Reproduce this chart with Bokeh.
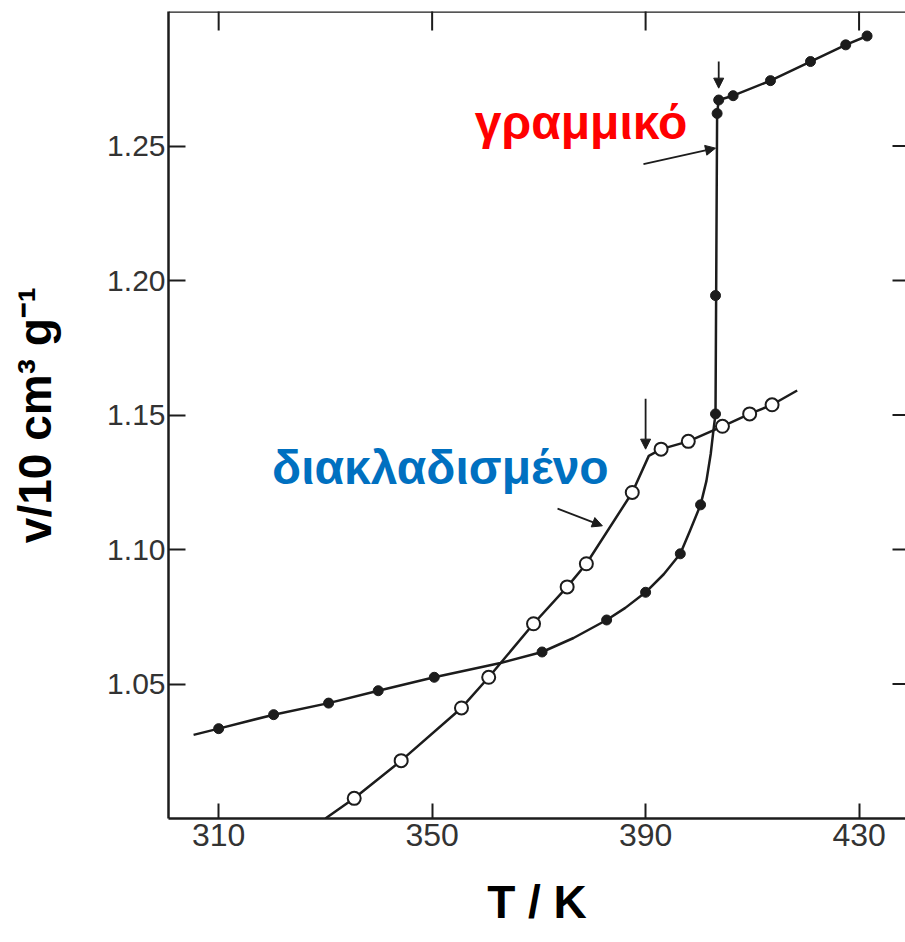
import numpy as np
from bokeh.plotting import figure
from bokeh.models import (Range1d, FixedTicker, Arrow, NormalHead, Label, Span,
                          NumeralTickFormatter)
from bokeh.embed import file_html
from bokeh.resources import INLINE

# ---------------- data ----------------
x_ticks = [310, 350, 390, 430]
y_ticks = [1.05, 1.10, 1.15, 1.20, 1.25]
x_lim = (300.6, 438.7)
y_lim = (1.00, 1.30)

# linear polymer (filled dots)
linear_T = [310.0, 320.3, 330.6, 339.9, 350.4, 370.6, 382.7, 390.0, 396.5, 400.3,
            403.1, 403.1, 403.4, 403.7, 406.4, 413.4, 420.9, 427.5, 431.5]
linear_v = [1.0334, 1.0386, 1.0429, 1.0475, 1.0525, 1.0619, 1.0738, 1.0841, 1.0984, 1.1166,
            1.1504, 1.1944, 1.2621, 1.2671, 1.2687, 1.2743, 1.2814, 1.2876, 1.2909]
# drawn curve through the linear data
linear_curve_T = [305.3, 310.0, 320.3, 330.6, 339.9, 350.4, 362.8, 370.6, 376.5, 382.7,
                  386.2, 390.0, 393.4, 396.5, 398.3, 400.3, 401.4, 402.2, 402.7, 403.1,
                  403.4, 403.7, 406.4, 413.4, 420.9, 427.5, 431.5]
linear_curve_v = [1.0311, 1.0334, 1.0386, 1.0429, 1.0475, 1.0525, 1.0578, 1.0619, 1.0671, 1.0738,
                  1.0783, 1.0841, 1.0908, 1.0984, 1.1069, 1.1166, 1.1255, 1.1355, 1.1441, 1.1504,
                  1.2621, 1.2671, 1.2687, 1.2743, 1.2814, 1.2876, 1.2909]

# branched polymer (open circles)
branched_T = [335.4, 344.2, 355.5, 360.6, 369.0, 375.3, 378.9, 387.5, 392.9, 398.0,
              404.4, 409.5, 413.7]
branched_v = [1.0075, 1.0215, 1.0411, 1.0525, 1.0724, 1.0861, 1.0947, 1.1212, 1.1373, 1.1402,
              1.1458, 1.1504, 1.1538]
branched_curve_T = [330.0, 335.4, 344.2, 355.5, 360.6, 369.0, 375.3, 378.9, 387.5, 390.6,
                    392.9, 398.0, 404.4, 409.5, 413.7, 418.4]
branched_curve_v = [1.0000, 1.0075, 1.0215, 1.0411, 1.0525, 1.0724, 1.0861, 1.0947, 1.1212, 1.1348,
                    1.1373, 1.1402, 1.1458, 1.1504, 1.1538, 1.1591]

# arrows: (x_start, y_start, x_end, y_end)
arrows = [
    (403.7, 1.2814, 403.7, 1.2715),   # Tg marker, linear
    (389.6, 1.2433, 403.1, 1.2492),   # pointer to linear curve
    (390.0, 1.1560, 390.0, 1.1373),   # Tg marker, branched
    (373.5, 1.1152, 381.9, 1.1088),   # pointer to branched curve
]

label_linear = "γραμμικό"
label_branched = "διακλαδισμένο"
x_title = "T / K"
y_title = "v/10 cm³ g⁻¹"

# ---------------- figure ----------------
INK = "#1c1c1c"
TICK_FONT = "'Liberation Sans Narrow', 'Liberation Sans', sans-serif"

p = figure(width=905, height=942,
           x_range=Range1d(*x_lim), y_range=Range1d(*y_lim),
           output_backend="svg", toolbar_location=None,
           min_border_left=168, min_border_right=0, min_border_top=11, min_border_bottom=124)
p.outline_line_color = None
p.grid.visible = False
p.background_fill_color = "white"
p.border_fill_color = "white"

# bottom axis
xa = p.xaxis[0]
xa.ticker = FixedTicker(ticks=x_ticks)
xa.minor_tick_line_color = None
xa.major_tick_in = 15
xa.major_tick_out = 0
xa.major_tick_line_width = 2
xa.major_tick_line_color = INK
xa.axis_line_width = 2.5
xa.axis_line_color = INK
xa.major_label_standoff = 5
xa.major_label_text_font = TICK_FONT
xa.major_label_text_font_size = "32px"
xa.major_label_text_color = "#333333"
xa.axis_label = x_title
xa.axis_label_text_font = "Liberation Sans"
xa.axis_label_text_font_style = "bold"
xa.axis_label_text_font_size = "46px"
xa.axis_label_text_color = "black"
xa.axis_label_standoff = 27

# left axis
ya = p.yaxis[0]
ya.ticker = FixedTicker(ticks=y_ticks)
ya.formatter = NumeralTickFormatter(format="0.00")
ya.minor_tick_line_color = None
ya.major_tick_in = 17
ya.major_tick_out = 0
ya.major_tick_line_width = 2
ya.major_tick_line_color = INK
ya.axis_line_width = 2.5
ya.axis_line_color = INK
ya.major_label_standoff = 3
ya.major_label_text_font = TICK_FONT
ya.major_label_text_font_size = "30px"
ya.major_label_text_color = "#333333"
ya.axis_label = y_title
ya.axis_label_text_font = "Liberation Sans"
ya.axis_label_text_font_style = "bold"
ya.axis_label_text_font_size = "46px"
ya.axis_label_text_color = "black"
ya.axis_label_standoff = 43

# top spine and inward ticks on top / right frame edges
p.add_layout(Span(location=y_lim[1], dimension="width", line_color=INK, line_width=2.5))
p.scatter(x_ticks, [y_lim[1]] * len(x_ticks), marker="dash", angle=np.pi / 2, size=38,
          line_color=INK, line_width=2)
p.scatter([x_lim[1]] * len(y_ticks), y_ticks, marker="dash", size=26,
          line_color=INK, line_width=2)

# curves
p.line(linear_curve_T, linear_curve_v, line_color=INK, line_width=2.5, line_join="round")
p.line(branched_curve_T, branched_curve_v, line_color=INK, line_width=2.5, line_join="round")

# markers
p.scatter(linear_T, linear_v, size=10, marker="circle", fill_color=INK, line_color=INK)
p.scatter(branched_T, branched_v, size=13, marker="circle", fill_color="white",
          line_color=INK, line_width=2)

# arrows
for xs, ys, xe, ye in arrows:
    p.add_layout(Arrow(end=NormalHead(size=10, fill_color=INK, line_color=INK, line_width=1),
                       x_start=xs, y_start=ys, x_end=xe, y_end=ye,
                       line_color=INK, line_width=1.8))

# curve names
p.add_layout(Label(x=358.0, y=1.2589, text=label_linear, text_color="#ff0000",
                   text_font="Liberation Sans", text_font_style="bold",
                   text_font_size="48px", text_baseline="alphabetic"))
p.add_layout(Label(x=320.0, y=1.1305, text=label_branched, text_color="#0070c0",
                   text_font="Liberation Sans", text_font_style="bold",
                   text_font_size="48px", text_baseline="alphabetic"))

open("out.html", "w").write(file_html(p, INLINE))
